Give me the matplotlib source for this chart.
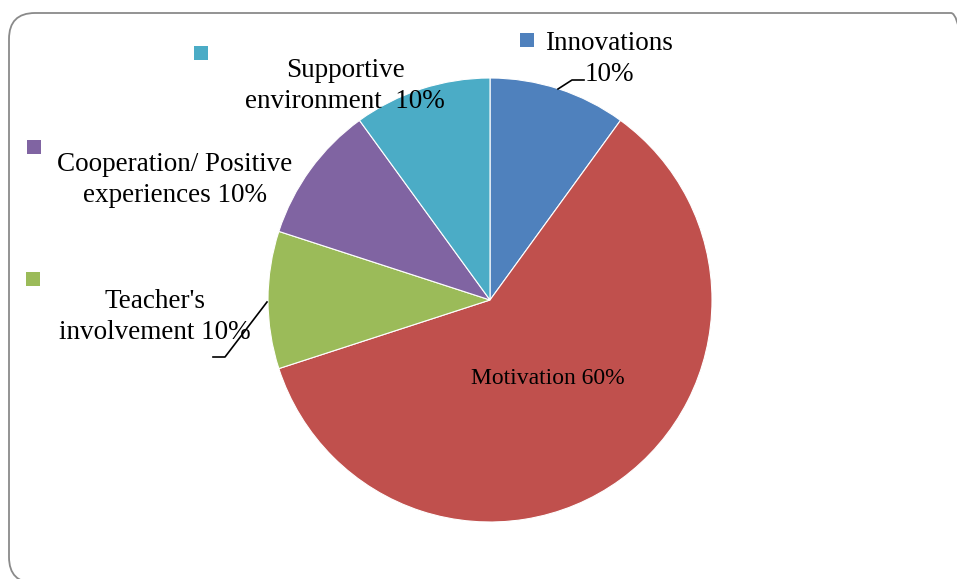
import matplotlib
matplotlib.use("Agg")
import matplotlib.pyplot as plt
from matplotlib.patches import FancyBboxPatch

# slice data, clockwise from 12 o'clock
categories = ["Innovations", "Motivation", "Teacher's involvement",
              "Cooperation/ Positive experiences", "Supportive environment"]
shares = [10, 60, 10, 10, 10]
colors = ["#4F81BD", "#C0504D", "#9BBB59", "#8064A2", "#4BACC6"]
label_texts = ["Innovations\n10%", "Motivation 60%", "Teacher's\ninvolvement 10%",
               "Cooperation/ Positive\nexperiences 10%", "Supportive\nenvironment  10%"]

W, H = 957, 579
plt.rcParams["font.family"] = ["Liberation Serif", "DejaVu Serif"]

fig = plt.figure(figsize=(W / 100, H / 100), dpi=100)

# pie axes: centre (490, 300) px, radius 222 px
cx, cy, r = 490, 300, 222
ax = fig.add_axes([(cx - r) / W, (H - cy - r) / H, 2 * r / W, 2 * r / H])
ax.pie(shares, colors=colors, startangle=90, counterclock=False, radius=1,
       wedgeprops=dict(edgecolor="white", linewidth=0.8))
ax.set_xlim(-1, 1)
ax.set_ylim(-1, 1)
ax.set_aspect("equal")
ax.axis("off")

# rounded outer frame, drawn in display pixels
frame = FancyBboxPatch((9, -4), 968, 570, boxstyle="round,pad=0,rounding_size=26",
                       fill=False, edgecolor="#8a8a8a", linewidth=1.3,
                       transform=None, clip_on=False)
fig.patches.append(frame)

# overlay in pixel coordinates (y down) for labels and keys
ov = fig.add_axes([0, 0, 1, 1], zorder=5)
ov.set_xlim(0, W)
ov.set_ylim(H, 0)
ov.axis("off")
ov.patch.set_alpha(0)

label_pos = [(609, 59), (548, 378), (155, 317), (175, 180), (345, 86)]
label_size = [19.5, 17, 19.5, 19.5, 19.5]
key_pos = [(527, 40), None, (33, 279), (34, 147), (201, 53)]
for text, pos, fs, key, col in zip(label_texts, label_pos, label_size, key_pos, colors):
    ov.text(pos[0], pos[1], text, ha="center", va="center", fontsize=fs,
            linespacing=1.28, color="black")
    if key is not None:
        ov.scatter([key[0]], [key[1]], marker="s", s=95, color=col, linewidths=0)

# leader lines
ov.plot([558, 572, 584], [89, 80, 80], color="black", linewidth=1.2)
ov.plot([267, 225, 213], [302, 357, 357], color="black", linewidth=1.2)

fig.savefig("out.png", dpi=100)
